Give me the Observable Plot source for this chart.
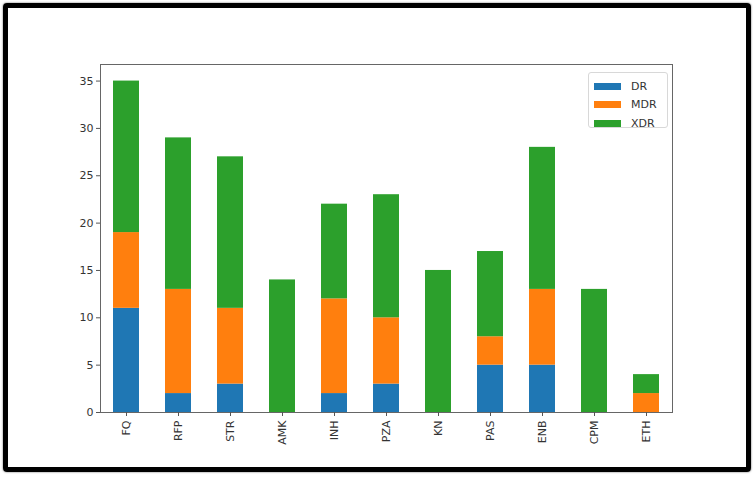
<!DOCTYPE html>
<html>
<head>
<meta charset="utf-8">
<script src="https://cdn.jsdelivr.net/npm/d3@7"></script>
<script src="https://cdn.jsdelivr.net/npm/@observablehq/plot@0.6"></script>
<style>
  html, body { margin: 0; padding: 0; background: #fff; }
  #wrap { position: relative; width: 756px; height: 481px; overflow: hidden; font-family: "DejaVu Sans", sans-serif; }
  #frame { position: absolute; left: 3px; top: 3px; width: 748px; height: 469px; box-sizing: border-box; border: 5px solid #000; border-radius: 4px; box-shadow: 0 0 2px #555; pointer-events: none; }
  #legend { position: absolute; left: 588px; top: 72px; width: 80px; height: 56px; box-sizing: border-box; border: 1px solid #d8d8d8; border-radius: 3px; background: rgba(255,255,255,0.8); padding: 4px 0 0 5px; font-size: 11px; color: #333; }
  #legend .row { display: flex; align-items: center; height: 18.5px; }
  #legend .sw { width: 27px; height: 7px; margin-right: 10px; }
</style>
</head>
<body>
<div id="wrap">
  <div id="chart"></div>
  <div id="legend"></div>
  <div id="frame"></div>
</div>
<script>
const drugs = ["FQ", "RFP", "STR", "AMK", "INH", "PZA", "KN", "PAS", "ENB", "CPM", "ETH"];
const series = ["DR", "MDR", "XDR"];
const colors = ["#1f77b4", "#ff7f0e", "#2ca02c"];
const DR  = [11, 2, 3, 0, 2, 3, 0, 5, 5, 0, 0];
const MDR = [8, 11, 8, 0, 10, 7, 0, 3, 8, 0, 2];
const XDR = [16, 16, 16, 14, 10, 13, 15, 9, 15, 13, 2];
const yTicks = [0, 5, 10, 15, 20, 25, 30, 35];

const valuesBySeries = [DR, MDR, XDR];
const data = [];
series.forEach((s, si) => {
  drugs.forEach((d, di) => data.push({drug: d, type: s, value: valuesBySeries[si][di]}));
});

const chart = Plot.plot({
  width: 756,
  height: 481,
  marginLeft: 100,
  marginRight: 84,
  marginTop: 64,
  marginBottom: 69,
  style: {fontFamily: "DejaVu Sans, sans-serif", fontSize: "11px", color: "#333", background: "transparent"},
  x: {domain: drugs, paddingInner: 0.5, paddingOuter: 0.25, label: null},
  y: {domain: [0, 36.75], label: null},
  color: {domain: series, range: colors},
  marks: [
    Plot.barY(data, {x: "drug", y: "value", fill: "type", order: series}),
    Plot.frame({stroke: "#666", strokeWidth: 1}),
    Plot.axisY({ticks: yTicks, tickSize: 4, tickPadding: 3, label: null, stroke: "#555"}),
    Plot.axisX({tickSize: 4, tickPadding: 4, tickRotate: -90, label: null, stroke: "#555"})
  ]
});
document.getElementById("chart").appendChild(chart);

const legend = document.getElementById("legend");
series.forEach((s, i) => {
  const row = document.createElement("div");
  row.className = "row";
  const sw = document.createElement("span");
  sw.className = "sw";
  sw.style.background = colors[i];
  const t = document.createElement("span");
  t.textContent = s;
  row.appendChild(sw);
  row.appendChild(t);
  legend.appendChild(row);
});
</script>
</body>
</html>
